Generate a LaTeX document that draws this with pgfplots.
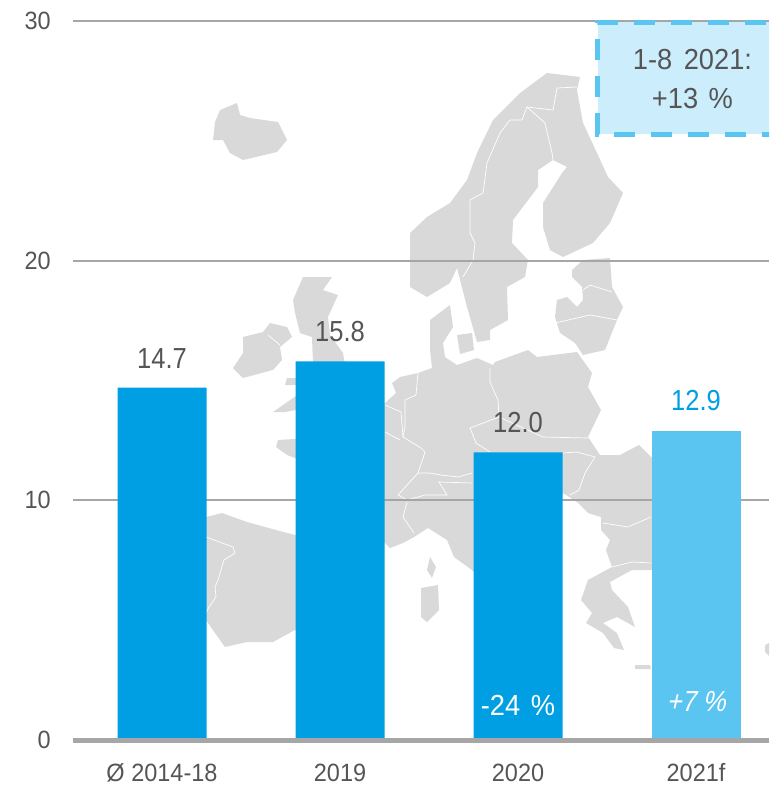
\documentclass[border=0pt]{standalone}
\usepackage{fontspec}
\usepackage{pgfplots}
\pgfplotsset{compat=1.18}
\setmainfont{Liberation Sans}
\newfontfamily\valfont[FakeStretch=0.88]{Liberation Sans}
\newfontfamily\tickfont[FakeStretch=0.94]{Liberation Sans}
\newfontfamily\slantfont[FakeStretch=0.88,FakeSlant=0.22]{Liberation Sans}
\definecolor{mapgrey}{HTML}{D9D9D9}
\definecolor{gridgrey}{HTML}{A6A6A6}
\definecolor{darkblue}{HTML}{009FE3}
\definecolor{lightblue}{HTML}{5BC5F2}
\definecolor{boxfill}{HTML}{CCEDFB}
\definecolor{textgrey}{HTML}{555555}
\pgfplotsset{land/.style={fill=mapgrey,draw=none},border/.style={white,line width=0.7pt}}
\begin{document}
\begin{tikzpicture}
\useasboundingbox (0pt,0pt) rectangle (769pt,785pt);
% map behind the chart, coordinates in picture pixels
\begin{axis}[at={(0pt,0pt)},scale only axis,width=769pt,height=785pt,
    xmin=0,xmax=769,ymin=0,ymax=785,y dir=reverse,hide axis]
% iceland
\addplot[land] coordinates {(215,122)(220,110)(237,103)(240,115)(250,118)(278,122)(287,140)(277,152)(243,160)(230,153)(223,140)(213,140)};
% scandinavia
\addplot[land] coordinates {(410,287)(410,233)(427,217)(450,203)(467,180)(477,153)(493,120)(520,93)(547,73)(580,77)(577,90)(583,123)(597,153)(608,177)(623,193)(610,223)(593,243)(563,257)(550,250)(543,227)(543,203)(562,173)(567,167)(553,160)(538,170)(538,187)(513,220)(512,243)(528,260)(525,277)(507,287)(508,320)(490,330)(490,340)(477,342)(467,307)(457,268)(450,283)(427,297)};
% baltics
\addplot[land] coordinates {(572,270)(583,260)(610,258)(612,287)(623,307)(617,320)(605,350)(583,355)(575,343)(560,333)(555,317)(557,300)(567,297)(577,307)(583,300)(582,287)(572,277)};
% britain
\addplot[land] coordinates {(293,300)(303,277)(332,277)(323,290)(338,295)(328,317)(330,335)(343,353)(345,365)(313,365)(312,337)(300,333)(295,313)};
\addplot[land] coordinates {(273,412)(283,405)(296,396)(310,396)(310,412)(296,410)(285,412)};
\addplot[land] coordinates {(296,385)(285,385)(287,378)(296,378)(310,378)(310,385)};
% ireland
\addplot[land] coordinates {(243,337)(263,332)(270,323)(287,327)(292,337)(280,347)(282,360)(273,370)(243,378)(233,368)(243,353)};
% continent
\addplot[land] coordinates {(385,403)(396,393)(392,383)(400,377)(418,373)(432,368)(430,350)(430,320)(450,305)(453,327)(443,343)(445,357)(457,365)(477,358)(493,365)(495,362)(528,350)(537,357)(577,352)(592,373)(588,387)(601,410)(588,437)(600,455)(620,455)(639,445)(651,457)(660,460)(660,570)(651,570)(632,570)(610,582)(612,590)(628,607)(635,627)(617,617)(603,623)(617,633)(624,650)(614,648)(603,633)(586,623)(592,613)(581,600)(588,580)(612,567)(606,550)(610,540)(601,530)(601,517)(588,513)(577,502)(563,493)(520,600)(500,600)(472,570)(454,557)(447,540)(428,528)(414,537)(403,543)(390,548)(385,543)(340,540)(300,460)(295,458)(287,455)(276,447)(278,440)(295,439)(320,420)};
% danish islands
\addplot[land] coordinates {(457,335)(472,333)(474,350)(460,354)};
% spain
\addplot[land] coordinates {(206,517)(222,513)(247,522)(276,530)(295,535)(320,535)(320,620)(295,630)(273,642)(247,642)(225,647)(215,633)(206,620)(190,620)(190,520)};
% corsica, sardinia, crete, turkey edge
\addplot[land] coordinates {(430,557)(436,567)(432,578)(427,570)};
\addplot[land] coordinates {(421,588)(438,585)(439,610)(427,622)(421,617)};
\addplot[land] coordinates {(635,665)(650,665)(651,669)(635,669)};
\addplot[land] coordinates {(765,645)(769,643)(769,656)(765,652)};
% borders
\addplot[border] coordinates {(527,107)(522,120)(510,120)(500,133)(487,163)(483,193)(470,200)(470,233)(475,243)(473,260)(463,277)};
\addplot[border] coordinates {(527,107)(545,123)(552,153)(553,160)};
\addplot[border] coordinates {(527,107)(553,110)(557,88)(577,87)};
\addplot[border] coordinates {(583,290)(590,285)(612,292)};
\addplot[border] coordinates {(555,323)(590,315)(617,320)};
\addplot[border] coordinates {(268,335)(280,345)};
\addplot[border] coordinates {(385,405)(401,412)(403,437)(421,448)(425,452)(418,473)};
\addplot[border] coordinates {(418,373)(416,395)(405,400)(405,427)(403,437)};
\addplot[border] coordinates {(385,432)(400,440)};
\addplot[border] coordinates {(490,368)(490,382)(498,400)(499,417)};
\addplot[border] coordinates {(499,417)(470,428)(476,443)(490,452)};
\addplot[border] coordinates {(499,417)(543,437)(588,438)};
\addplot[border] coordinates {(418,473)(429,473)(441,475)(458,477)(472,473)};
\addplot[border] coordinates {(418,473)(398,495)(407,500)(425,495)(447,495)(439,482)(472,483)};
\addplot[border] coordinates {(407,502)(403,517)(414,533)};
\addplot[border] coordinates {(563,453)(577,452)(595,457)(585,473)(579,490)(570,495)};
\addplot[border] coordinates {(603,523)(628,527)(651,517)};
\addplot[border] coordinates {(612,567)(632,562)(651,563)};
\addplot[border] coordinates {(206,537)(233,547)(235,553)(224,560)(218,580)(215,587)(216,597)(209,607)(206,613)};
\end{axis}
% chart
\begin{axis}[at={(73pt,42.36pt)},scale only axis,width=696pt,height=721.7pt,
    xmin=-0.5,xmax=3.41,ymin=-0.11,ymax=30,
    axis line style={draw=none},
    xtick={0,1,2,3},xticklabels={Ø 2014-18,2019,2020,2021f},
    ytick={0,10,20,30},
    major tick length=0pt,
    ymajorgrids,grid style={gridgrey,line width=1.8pt},
    /pgf/number format/assume math mode=true,
    tick label style={font=\tickfont\fontsize{25}{28}\selectfont,text=textgrey,inner sep=0pt},
    xticklabel style={yshift=-21pt},
    yticklabel style={xshift=-22pt},
    nodes near coords,
    nodes near coords style={font=\valfont\fontsize{29}{32}\selectfont,
        /pgf/number format/fixed,/pgf/number format/fixed zerofill,/pgf/number format/precision=1,
        yshift=16pt},
    ybar,bar width=89pt,bar shift=0pt]
\addplot[draw=none,fill=darkblue,nodes near coords style={text=textgrey}] coordinates {(0,14.7)(1,15.8)(2,12.0)};
\addplot[draw=none,fill=lightblue,nodes near coords style={text=darkblue}] coordinates {(3,12.9)};
\addplot[sharp plot,no marks,nodes near coords={},draw=gridgrey,line width=5pt] coordinates {(-0.5,0)(3.41,0)};
\addplot[sharp plot,no marks,nodes near coords={},fill=boxfill,draw=lightblue,line width=5pt,dash pattern=on 21pt off 16pt] coordinates {(3.6,29.95)(2.449,29.95)(2.449,25.28)(3.6,25.28)};
\node[font=\tickfont\fontsize{29}{32}\selectfont,text=textgrey] at (axis cs:2.98,28.38) {1-8\hspace{4pt} 2021:};
\node[font=\tickfont\fontsize{29}{32}\selectfont,text=textgrey] at (axis cs:2.98,26.78) {+13\hspace{3pt} \%};
\node[font=\tickfont\fontsize{29}{32}\selectfont,text=white] at (axis cs:2,1.45) {-24\hspace{3pt} \%};
\node[font=\slantfont\fontsize{29}{32}\selectfont,text=white] at (axis cs:3,1.6) {+7 \%};
\end{axis}
\end{tikzpicture}
\end{document}
